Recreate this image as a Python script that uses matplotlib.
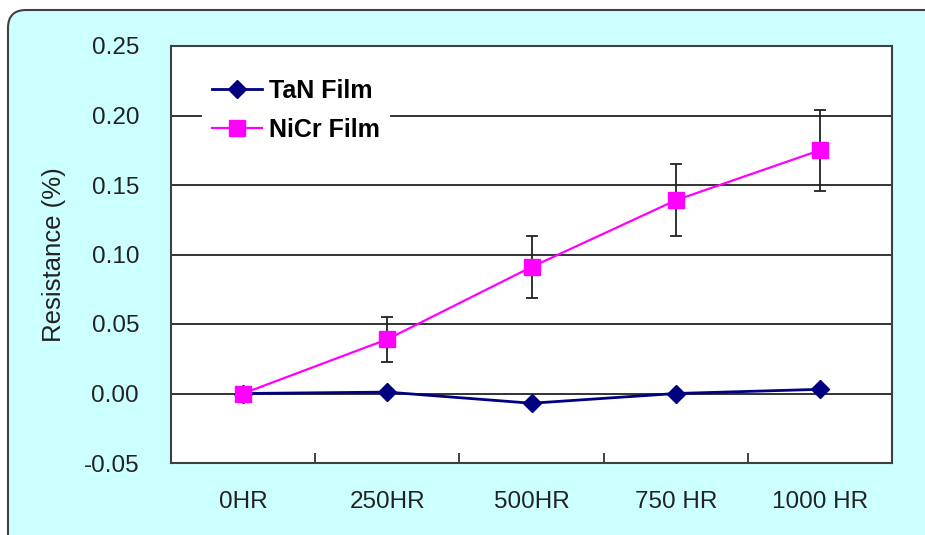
import matplotlib.pyplot as plt
from matplotlib.patches import FancyBboxPatch
from matplotlib.transforms import IdentityTransform

categories = ['0HR', '250HR', '500HR', '750 HR', '1000 HR']
tan_vals = [0.000, 0.001, -0.007, 0.000, 0.003]
nicr_vals = [0.000, 0.039, 0.091, 0.139, 0.175]
nicr_err = [0.000, 0.016, 0.022, 0.026, 0.029]
y_ticks = [-0.05, 0.00, 0.05, 0.10, 0.15, 0.20, 0.25]

plt.rcParams['font.family'] = ['Liberation Sans', 'DejaVu Sans']


def main():
    fig = plt.figure(figsize=(9.25, 5.35), dpi=100, facecolor='white')

    # rounded cyan chart area, runs off the bottom-right edge
    bg = FancyBboxPatch((8, -25), 945, 535 - 10 + 25,
                        boxstyle='round,pad=0,rounding_size=18',
                        transform=IdentityTransform(),
                        facecolor='#CCFFFF', edgecolor='#404040', linewidth=1.5,
                        zorder=-1)
    fig.patches.append(bg)

    ax = fig.add_axes([171 / 925, 1 - 463 / 535, 721 / 925, 417 / 535])
    ax.set_facecolor('white')

    x = list(range(len(categories)))
    ax.plot(x, tan_vals, color='#000080', linewidth=2, marker='D',
            markersize=9.5, label='TaN Film', zorder=3)
    ax.errorbar(x, nicr_vals, yerr=nicr_err, fmt='none', ecolor='#222222',
                elinewidth=1.3, capsize=4.5, capthick=1.3, zorder=3)
    ax.plot(x, nicr_vals, color='#FF00FF', linewidth=1.6, marker='s',
            markersize=12, label='NiCr Film', zorder=4)

    ax.set_xlim(-0.5, len(categories) - 0.5)
    ax.set_ylim(-0.05, 0.25)
    ax.set_yticks(y_ticks)
    ax.set_yticklabels([f'{v:.2f}' for v in y_ticks])
    ax.set_xticks(x)
    ax.set_xticklabels(categories)
    ax.set_xticks([i + 0.5 for i in x[:-1]], minor=True)

    ax.tick_params(axis='y', length=0, pad=23, labelsize=17.5, labelcolor='#222222')
    ax.tick_params(axis='x', which='major', length=0, pad=20, labelsize=17.5,
                   labelcolor='#222222')
    ax.tick_params(axis='x', which='minor', direction='in', length=7,
                   width=1.3, color='#333333')

    ax.grid(axis='y', color='#111111', linewidth=1.2)
    ax.set_axisbelow(True)
    for sp in ax.spines.values():
        sp.set_color('#404040')
        sp.set_linewidth(1.5)

    ax.set_ylabel('Resistance (%)', fontsize=18.5, color='#222222')
    ax.yaxis.set_label_coords(-0.145, 0.5)

    leg = ax.legend(loc='upper left', bbox_to_anchor=(0.025, 0.975),
                    prop={'weight': 'bold', 'size': 18},
                    frameon=True, facecolor='white', edgecolor='none',
                    framealpha=1, fancybox=False, handlelength=2.0,
                    handletextpad=0.3, labelspacing=0.6, borderpad=0.4)
    leg.set_zorder(5)

    fig.savefig('out.png', dpi=100, facecolor=fig.get_facecolor())
    plt.close(fig)


if __name__ == '__main__':
    main()
